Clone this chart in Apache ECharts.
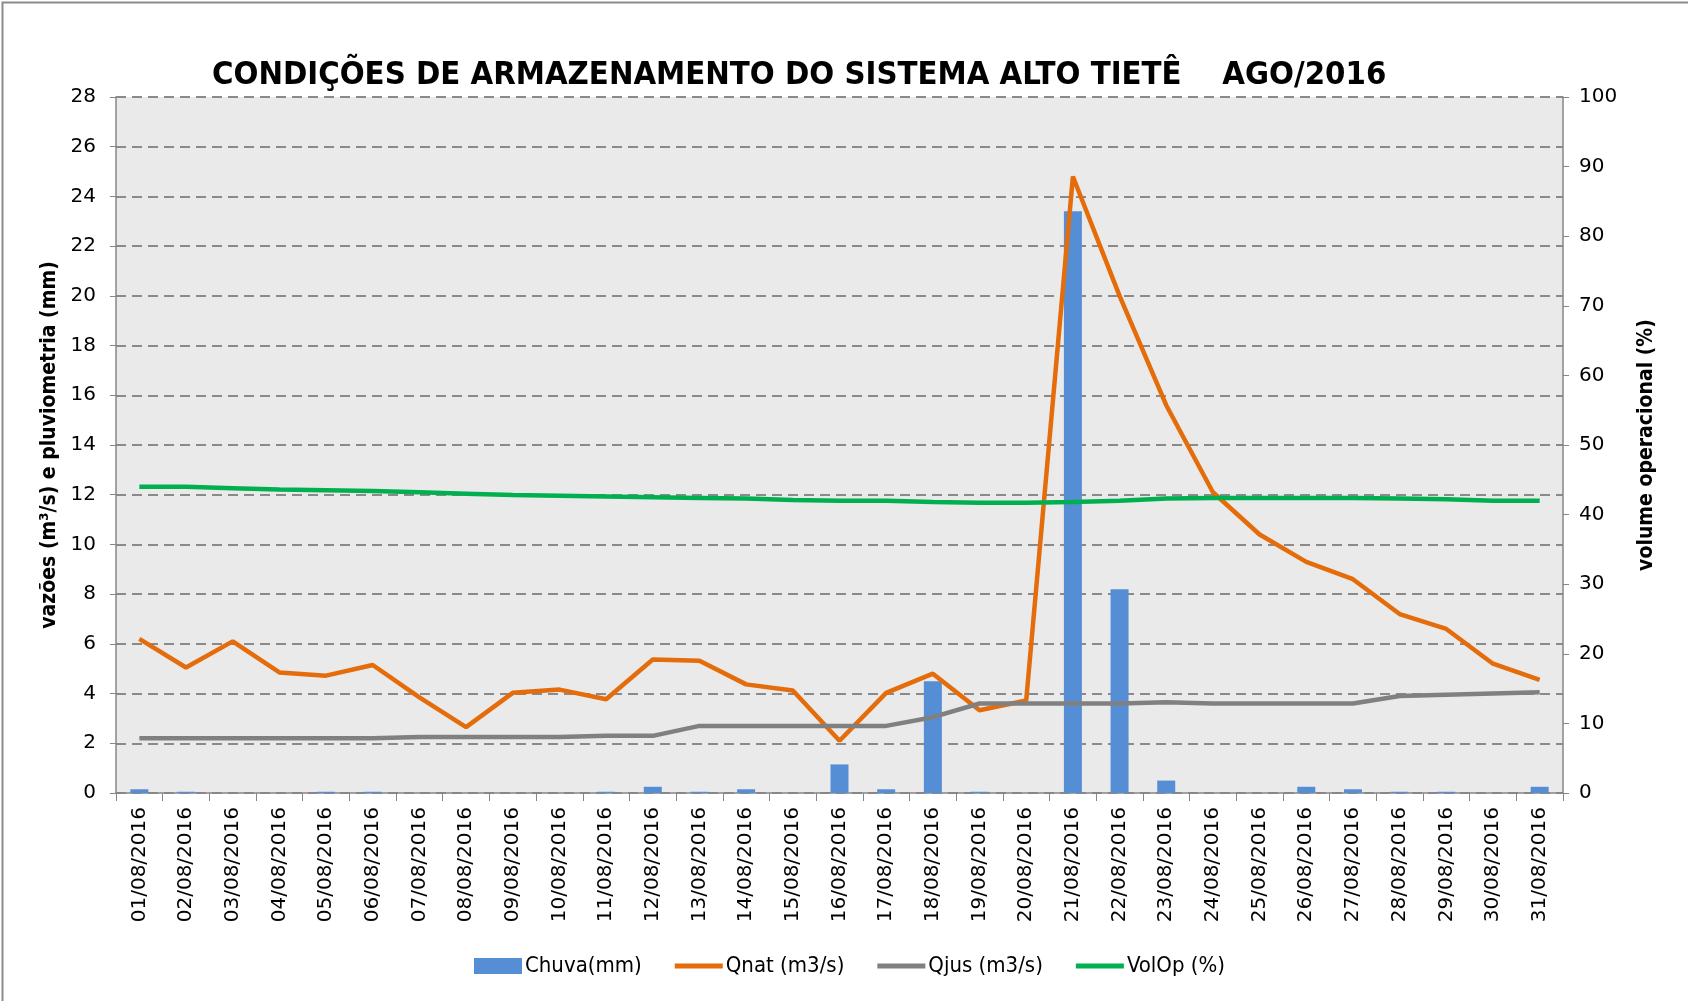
<!DOCTYPE html>
<html>
<head>
<meta charset="utf-8">
<title>Sistema Alto Tietê - AGO/2016</title>
<script src="https://cdn.jsdelivr.net/npm/echarts@6/dist/echarts.min.js"></script>
<style>
  html, body { margin: 0; padding: 0; background: #fff; }
  #main { width: 1688px; height: 1001px; }
</style>
</head>
<body>
<div id="main"></div>
<script>
// dias do mes
var dias = [
  "01/08/2016", "02/08/2016", "03/08/2016", "04/08/2016", "05/08/2016", "06/08/2016",
  "07/08/2016", "08/08/2016", "09/08/2016", "10/08/2016", "11/08/2016", "12/08/2016",
  "13/08/2016", "14/08/2016", "15/08/2016", "16/08/2016", "17/08/2016", "18/08/2016",
  "19/08/2016", "20/08/2016", "21/08/2016", "22/08/2016", "23/08/2016", "24/08/2016",
  "25/08/2016", "26/08/2016", "27/08/2016", "28/08/2016", "29/08/2016", "30/08/2016",
  "31/08/2016"
];

// chuva (mm)
var chuva = [
  0.15, 0.05, 0, 0, 0.05, 0.05, 0, 0, 0, 0, 0.05, 0.25, 0.05, 0.15, 0, 1.15,
  0.15, 4.5, 0.05, 0, 23.4, 8.2, 0.5, 0, 0, 0.25, 0.15, 0.05, 0.05, 0, 0.25
];

// vazao natural (m3/s)
var qnat = [
  6.2, 5.05, 6.1, 4.85, 4.72, 5.15, 3.85, 2.65, 4.03, 4.16, 3.77, 5.37, 5.32, 4.37, 4.12, 2.1,
  4.03, 4.8, 3.33, 3.72, 24.8, 20.0, 15.6, 12.1, 10.4, 9.3, 8.6, 7.2, 6.6, 5.2, 4.55
];

// vazao a jusante (m3/s)
var qjus = [
  2.2, 2.2, 2.2, 2.2, 2.2, 2.2, 2.25, 2.25, 2.25, 2.25, 2.3, 2.3, 2.7, 2.7, 2.7, 2.7,
  2.7, 3.05, 3.6, 3.6, 3.6, 3.6, 3.65, 3.6, 3.6, 3.6, 3.6, 3.9, 3.95, 4.0, 4.05
];

// volume operacional (%)
var volop = [
  44.0, 44.0, 43.8, 43.6, 43.5, 43.4, 43.2, 43.0, 42.8, 42.7, 42.6, 42.5, 42.4, 42.3, 42.1, 42.0,
  42.0, 41.8, 41.7, 41.7, 41.8, 42.0, 42.3, 42.4, 42.4, 42.4, 42.4, 42.3, 42.2, 42.0, 42.0
];

var fonteEstreita = "'Liberation Sans Narrow', 'DejaVu Sans Condensed', sans-serif";
var fonteEixo = "'DejaVu Sans', Verdana, sans-serif";
// icone de linha da legenda (sem o circulo)
var iconeLinha = "path://M0,0H48V5H0Z";

var myChart = echarts.init(document.getElementById("main"));

var option = {
  backgroundColor: "#ffffff",
  animation: false,
  title: {
    text: "CONDIÇÕES DE ARMAZENAMENTO DO SISTEMA ALTO TIETÊ    AGO/2016",
    left: 207,
    top: 54,
    textStyle: {
      fontFamily: fonteEstreita,
      fontWeight: "bold",
      fontSize: 32.6,
      color: "#000"
    }
  },
  legend: {
    left: 469,
    top: 950,
    itemWidth: 48,
    itemHeight: 16,
    itemGap: 33,
    textStyle: {
      fontFamily: fonteEstreita,
      fontSize: 22,
      color: "#000",
      padding: [0, 0, 0, -2]
    },
    data: [
      { name: "Chuva(mm)", icon: "rect" },
      { name: "Qnat (m3/s)", icon: iconeLinha },
      { name: "Qjus (m3/s)", icon: iconeLinha },
      { name: "VolOp (%)", icon: iconeLinha }
    ]
  },
  grid: {
    left: 116,
    right: 125,
    top: 97,
    bottom: 208,
    show: true,
    backgroundColor: "#eaeaea",
    borderWidth: 0
  },
  xAxis: {
    type: "category",
    data: dias,
    boundaryGap: true,
    axisLine: { lineStyle: { color: "#868686", width: 1.5 } },
    axisTick: { show: true, interval: 0, alignWithLabel: false, length: 8, lineStyle: { color: "#868686" } },
    axisLabel: {
      interval: 0,
      rotate: 90,
      margin: 14,
      fontFamily: fonteEixo,
      fontSize: 20,
      color: "#000"
    }
  },
  yAxis: [
    {
      type: "value",
      min: 0,
      max: 28,
      interval: 2,
      name: "vazões (m³/s) e pluviometria (mm)",
      nameLocation: "middle",
      nameGap: 55,
      nameTextStyle: {
        fontFamily: fonteEstreita,
        fontWeight: "bold",
        fontSize: 21,
        color: "#000"
      },
      axisLine: { show: true, lineStyle: { color: "#868686", width: 1.5 } },
      axisTick: { show: true, length: 6, lineStyle: { color: "#868686" } },
      axisLabel: {
        margin: 20,
        fontFamily: fonteEixo,
        fontSize: 20,
        color: "#000"
      },
      splitLine: {
        show: true,
        lineStyle: { color: "#8a8a8a", width: 2, type: [10, 6] }
      }
    },
    {
      type: "value",
      min: 0,
      max: 100,
      interval: 10,
      position: "right",
      name: "volume operacional (%)",
      nameLocation: "middle",
      nameGap: 73,
      nameRotate: 90,
      nameTextStyle: {
        fontFamily: fonteEstreita,
        fontWeight: "bold",
        fontSize: 21,
        color: "#000"
      },
      axisLine: { show: true, lineStyle: { color: "#868686", width: 1.5 } },
      axisTick: { show: true, length: 6, lineStyle: { color: "#868686" } },
      axisLabel: {
        margin: 16,
        fontFamily: fonteEixo,
        fontSize: 20,
        color: "#000"
      },
      splitLine: { show: false }
    }
  ],
  series: [
    {
      name: "Chuva(mm)",
      type: "bar",
      yAxisIndex: 0,
      barWidth: 18,
      itemStyle: { color: "#558ed5" },
      data: chuva
    },
    {
      name: "Qnat (m3/s)",
      type: "line",
      yAxisIndex: 0,
      symbol: "none",
      lineStyle: { color: "#e46c0a", width: 4.5 },
      itemStyle: { color: "#e46c0a" },
      data: qnat
    },
    {
      name: "Qjus (m3/s)",
      type: "line",
      yAxisIndex: 0,
      symbol: "none",
      lineStyle: { color: "#808080", width: 4.5 },
      itemStyle: { color: "#808080" },
      data: qjus
    },
    {
      name: "VolOp (%)",
      type: "line",
      yAxisIndex: 1,
      symbol: "none",
      lineStyle: { color: "#00b050", width: 4.5 },
      itemStyle: { color: "#00b050" },
      data: volop
    }
  ],
  graphic: [
    {
      type: "rect",
      left: 0,
      top: 0,
      shape: { width: 1687, height: 1000 },
      style: { fill: "none", stroke: "#8c8c8c", lineWidth: 2 },
      silent: true
    }
  ]
};

myChart.setOption(option);
</script>
</body>
</html>
